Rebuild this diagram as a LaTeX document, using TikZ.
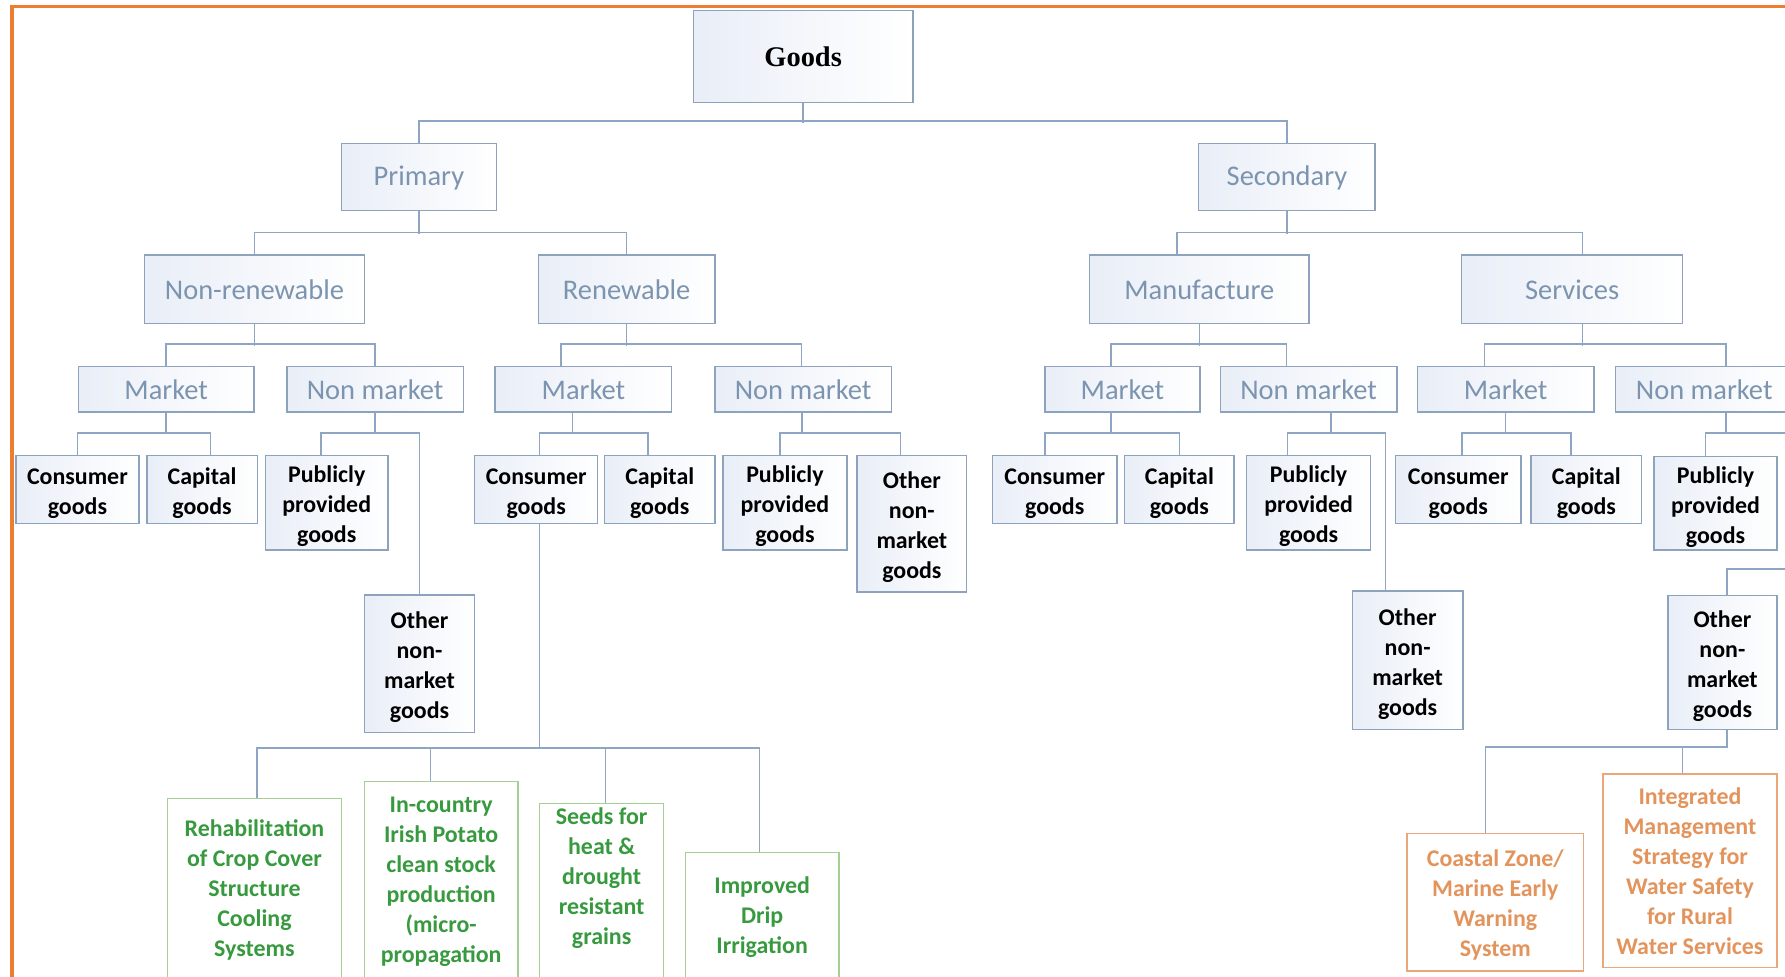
\documentclass[tikz,border=0pt]{standalone}
\usepackage{fontspec}
\setmainfont{Carlito}
\newfontfamily\goodsfont{Liberation Serif}
\definecolor{boxline}{HTML}{8DA3BD}
\definecolor{boxtint}{HTML}{E9EEF7}
\definecolor{connline}{HTML}{8EA5C3}
\definecolor{labelblue}{HTML}{7C94AF}
\definecolor{greenline}{HTML}{A6CF94}
\definecolor{greentext}{HTML}{379A3F}
\definecolor{orangeline}{HTML}{E9A77A}
\definecolor{orangetext}{HTML}{E3945C}
\definecolor{framecol}{HTML}{ED7D31}
% strut that gives the first line of a box some extra head room
\newcommand\firststrut[1][21]{\rule{0pt}{#1pt}}
\begin{document}
\begin{tikzpicture}[x=1pt,y=-1pt,
  wh/.style 2 args={minimum width=#1pt, minimum height=#2pt},
  box/.style={draw=boxline, line width=1.3pt, left color=boxtint, right color=white,
              inner sep=0pt, align=center},
  head/.style={box, font=\fontsize{25}{30}\selectfont, text=labelblue,
               execute at begin node={\rule{0pt}{18.5pt}}},
  leaf/.style={box, font=\fontsize{21}{26.3}\selectfont\bfseries, text=black},
  gbox/.style={draw=greenline, line width=1.3pt, fill=white, inner sep=0pt, anchor=north},
  gtext/.style={font=\fontsize{21}{26.3}\selectfont\bfseries, text=greentext,
                align=center, inner sep=0pt},
  obox/.style={draw=orangeline, line width=1.3pt, fill=white, inner sep=0pt, align=center,
               font=\fontsize{21}{26.3}\selectfont\bfseries, text=orangetext},
  conn/.style={draw=connline, line width=1.4pt}
]
% canvas and frame
\clip (0,0) rectangle (1568,858);
\fill[white] (0,0) rectangle (1568,858);
\draw[framecol, line width=3pt] (10.5,870) -- (10.5,5.5) -- (1580,5.5);

% ---- root and first levels
\node[box, wh={193}{81}, font=\goodsfont\bfseries\fontsize{25}{30}\selectfont] (goods) at (705.5,49.5) {Goods};
\node[head, wh={136}{59}] (primary)   at (368,155.5)    {Primary};
\node[head, wh={155}{59}] (secondary) at (1130.5,155.5) {Secondary};
\node[head, wh={193}{60}] (nonren) at (223.5,254)  {Non-renewable};
\node[head, wh={155}{60}] (renew)  at (550.5,254)  {Renewable};
\node[head, wh={193}{60}] (manuf)  at (1053.5,254) {Manufacture};
\node[head, wh={194}{60}] (serv)   at (1381,254)   {Services};

% ---- market / non market
\node[head, wh={154}{40}] (nrm) at (146,342)    {Market};
\node[head, wh={155}{40}] (nrn) at (329.5,342)  {Non market};
\node[head, wh={155}{40}] (rm)  at (512.5,342)  {Market};
\node[head, wh={155}{40}] (rn)  at (705.5,342)  {Non market};
\node[head, wh={136}{40}] (mm)  at (986,342)    {Market};
\node[head, wh={155}{40}] (mn)  at (1149.5,342) {Non market};
\node[head, wh={155}{40}] (sm)  at (1322.5,342) {Market};
\node[head, wh={156}{40}] (sn)  at (1497,342)   {Non market};

% ---- kinds of goods
\node[leaf, wh={108}{60}]  (nrcons) at (68,430)      {\firststrut Consumer\\goods};
\node[leaf, wh={97}{60}]   (nrcap)  at (177.5,430)   {\firststrut Capital\\goods};
\node[leaf, wh={108}{83}]  (nrpub)  at (287,441.5)   {\firststrut Publicly\\provided\\goods};
\node[leaf, wh={97}{121}]  (nroth)  at (368.5,583)   {\firststrut Other\\non-\\market\\goods};
\node[leaf, wh={108}{60}]  (rcons)  at (471,430)     {\firststrut Consumer\\goods};
\node[leaf, wh={97}{60}]   (rcap)   at (579.5,430)   {\firststrut Capital\\goods};
\node[leaf, wh={109}{83}]  (rpub)   at (689.5,441.5) {\firststrut Publicly\\provided\\goods};
\node[leaf, wh={96}{120}]  (roth)   at (801,460)     {\firststrut Other\\non-\\market\\goods};
\node[leaf, wh={109}{60}]  (mcons)  at (926.5,430)   {\firststrut Consumer\\goods};
\node[leaf, wh={96}{60}]   (mcap)   at (1036,430)    {\firststrut Capital\\goods};
\node[leaf, wh={109}{83}]  (mpub)   at (1149.5,441.5){\firststrut Publicly\\provided\\goods};
\node[leaf, wh={97}{122}]  (moth)   at (1236.5,580)  {\firststrut Other\\non-\\market\\goods};
\node[leaf, wh={110}{60}]  (scons)  at (1281,430)    {\firststrut Consumer\\goods};
\node[leaf, wh={97}{60}]   (scap)   at (1393.5,430)  {\firststrut Capital\\goods};
\node[leaf, wh={108}{82}]  (spub)   at (1507,442)    {\firststrut Publicly\\provided\\goods};
\node[leaf, wh={96}{118}]  (soth)   at (1513,582)    {\firststrut Other\\non-\\market\\goods};

% ---- green examples (run past the lower edge)
\node[gbox, wh={153}{200}] (g1) at (223.5,701) {};
\node[gbox, wh={135}{200}] (g2) at (387.5,686) {};
\node[gbox, wh={109}{200}] (g3) at (528.5,705) {};
\node[gbox, wh={135}{200}] (g4) at (669.5,748) {};
\node[gtext] (g1t) at (223.5,782)   {Rehabilitation\\of Crop Cover\\Structure\\Cooling\\Systems};
\node[gtext] (g2t) at (387.5,774.5) {In-country\\Irish Potato\\clean stock\\production\\(micro-\\propagation};
\node[gtext] (g3t) at (528.5,771.5) {Seeds for\\heat \&\\drought\\resistant\\grains};
\node[gtext] (g4t) at (669.5,806)   {Improved\\Drip\\Irrigation};

% ---- orange examples
\node[obox, wh={155}{121}] (coast) at (1313.5,792.5) {\firststrut[20]Coastal Zone/\\Marine Early\\Warning\\System};
\node[obox, wh={153}{170}] (integ) at (1484.5,765)   {Integrated\\Management\\Strategy for\\Water Safety\\for Rural\\Water Services};

% ---- connectors
\draw[conn] (goods.south) -- ++(0,17);
\draw[conn] (primary.north) -- ++(0,-19) -| (secondary.north);

\draw[conn] (primary.south) -- ++(0,20);
\draw[conn] (nonren.north) -- ++(0,-19) -| (renew.north);
\draw[conn] (secondary.south) -- ++(0,20);
\draw[conn] ([xshift=-19.5pt]manuf.north) -- ++(0,-19) -| ([xshift=9pt]serv.north);

\draw[conn] (nonren.south) -- ++(0,19);
\draw[conn] (nrm.north) -- ++(0,-19) -| (nrn.north);
\draw[conn] (renew.south) -- ++(0,19);
\draw[conn] ([xshift=-19.5pt]rm.north) -- ++(0,-19) -| ([xshift=-1.5pt]rn.north);
\draw[conn] (manuf.south) -- ++(0,19);
\draw[conn] ([xshift=-10pt]mm.north) -- ++(0,-19) -| ([xshift=-19.5pt]mn.north);
\draw[conn] ([xshift=9pt]serv.south) -- ++(0,19);
\draw[conn] ([xshift=-18.5pt]sm.north) -- ++(0,-19) -| ([xshift=19pt]sn.north);

\draw[conn] (nrm.south) -- ++(0,19);
\draw[conn] (nrcons.north) -- ++(0,-19) -| ([xshift=7.5pt]nrcap.north);
\draw[conn] (nrn.south) -- ++(0,19);
\draw[conn] ([xshift=-5pt]nrpub.north) -- ++(0,-19) -| (nroth.north);
\draw[conn] ([xshift=-9.5pt]rm.south) -- ++(0,19);
\draw[conn] ([xshift=3pt]rcons.north) -- ++(0,-19) -| ([xshift=-10.5pt]rcap.north);
\draw[conn] ([xshift=-1pt]rn.south) -- ++(0,19);
\draw[conn] ([xshift=-4.5pt]rpub.north) -- ++(0,-19) -| ([xshift=-10pt]roth.north);
\draw[conn] ([xshift=-10pt]mm.south) -- ++(0,19);
\draw[conn] ([xshift=-8.5pt]mcons.north) -- ++(0,-19) -| (mcap.north);
\draw[conn] ([xshift=19.5pt]mn.south) -- ++(0,19);
\draw[conn] ([xshift=-18.5pt]mpub.north) -- ++(0,-19) -| ([xshift=-19.5pt]moth.north);
\draw[conn] (sm.south) -- ++(0,19);
\draw[conn] ([xshift=3pt]scons.north) -- ++(0,-19) -| ([xshift=-13.5pt]scap.north);
\draw[conn] ([xshift=19pt]sn.south) -- ++(0,19);
\coordinate (offedge) at (1585,500);
\draw[conn] ([xshift=-9pt]spub.north) -- ++(0,-20) -| (offedge) -| ([xshift=4pt]soth.north);

\draw[conn] ([xshift=3pt]rcons.south) -- ++(0,197);
\draw[conn] ([xshift=2.5pt]g1.north) -- ++(0,-44) -| ([xshift=-2.5pt]g4.north);
\draw[conn] ([xshift=-9.5pt]g2.north) -- ++(0,-29);
\draw[conn] ([xshift=3.5pt]g3.north) -- ++(0,-48);

\draw[conn] ([xshift=-8.5pt]coast.north) -- ++(0,-75) -| ([xshift=4pt]soth.south);
\draw[conn] ([xshift=-6.5pt]integ.north) -- ++(0,-23);
\end{tikzpicture}
\end{document}
